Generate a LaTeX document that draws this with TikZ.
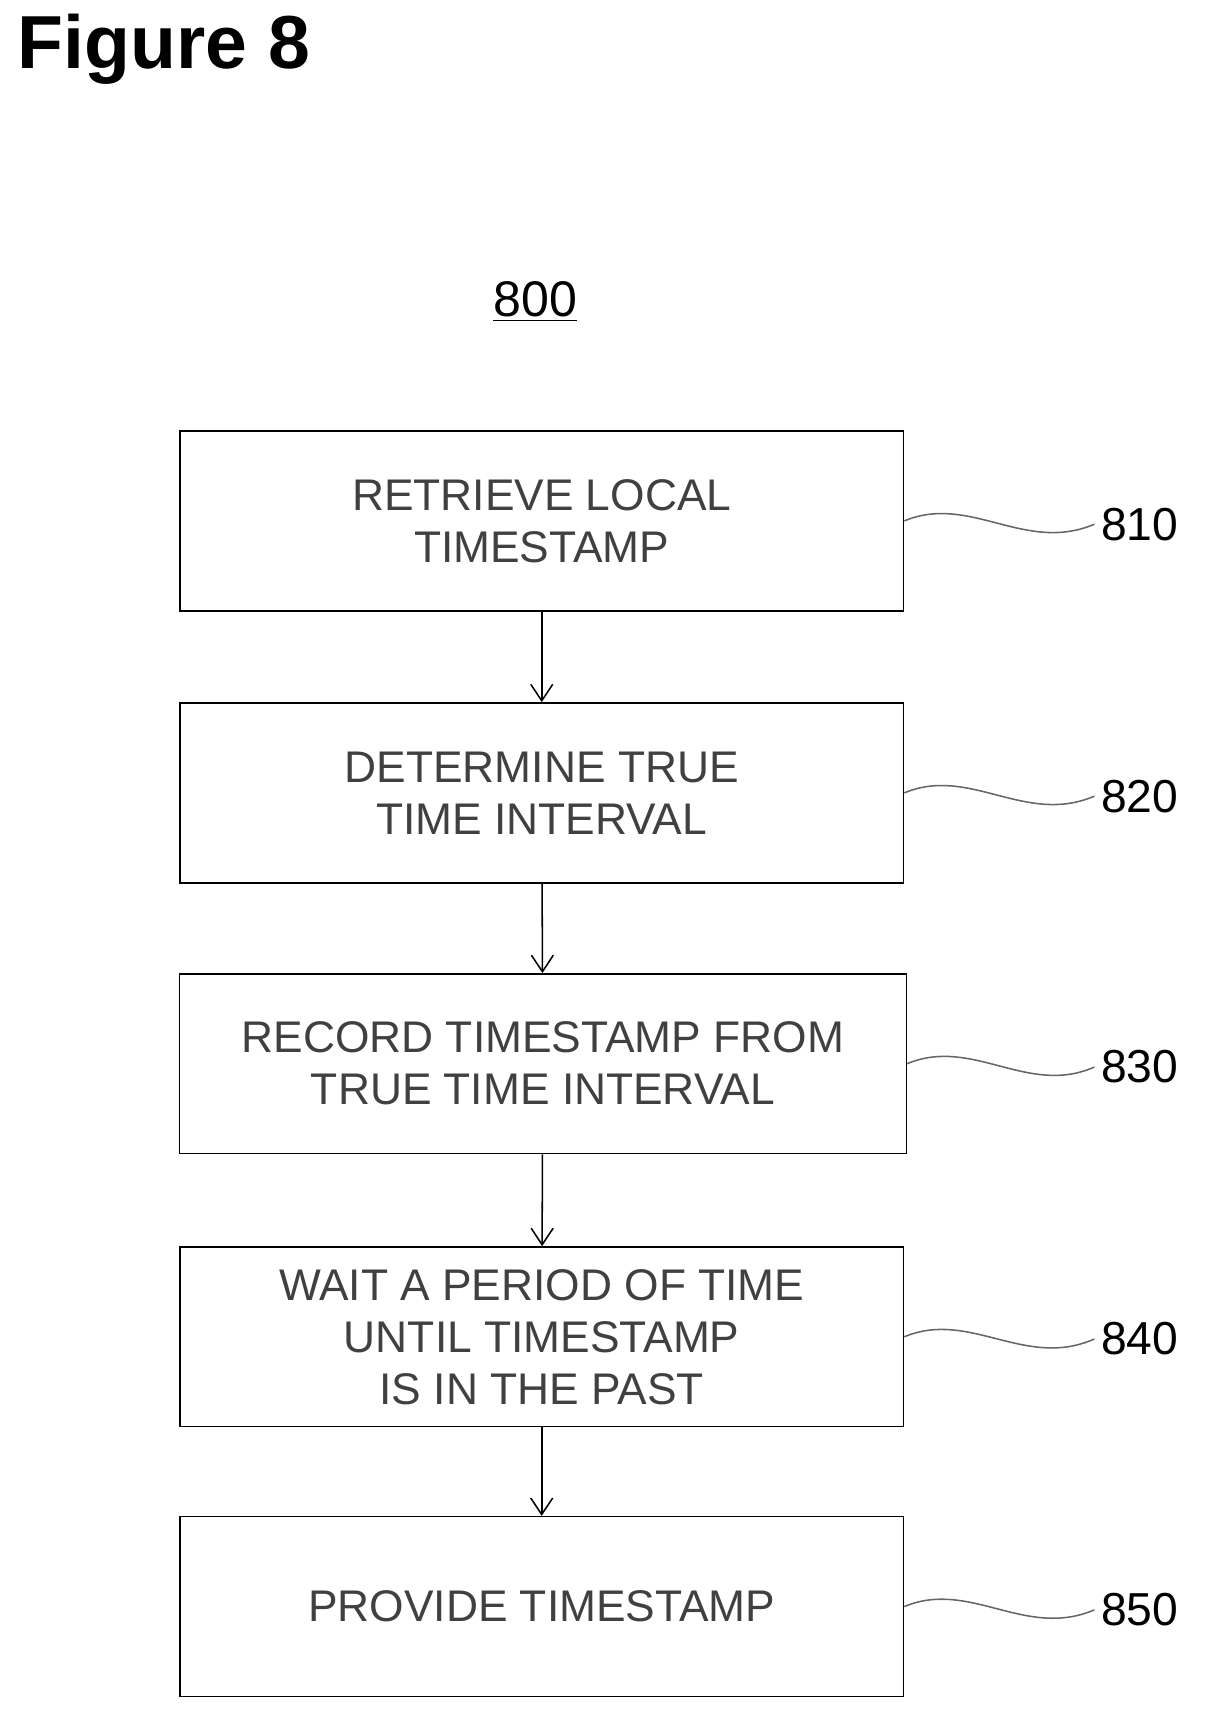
\documentclass[tikz,border=0pt]{standalone}
\usepackage{fontspec}
\setmainfont{Liberation Sans}
\usetikzlibrary{arrows.meta,positioning,calc}
\tikzset{
  stepbox/.style={draw,thick,minimum width=13.2cm,minimum height=3.28cm,align=center,font=\fontsize{23}{27}\selectfont,text=black!75},
  flow/.style={thick,-{Straight Barb[length=3mm,width=4mm]}},
  ref/.style={font=\fontsize{24}{28}\selectfont},
  wave/.style={gray!80!black,thick}
}
\begin{document}
\begin{tikzpicture}[x=0.02cm,y=-0.02cm]
	\useasboundingbox (0,0) rectangle (1100,1563);
	%title
	\node[anchor=west,font=\bfseries\fontsize{39}{45}\selectfont] (fig) at (10,45) {Figure 8};
	\node[font=\fontsize{26}{30}\selectfont] (num) at (488,275) {\underline{800}};
	%steps
	\node[stepbox] (s810) at (494,475) {RETRIEVE LOCAL\\TIMESTAMP};
	\node[stepbox] (s820) at (494,723) {DETERMINE TRUE\\TIME INTERVAL};
	\node[stepbox,minimum width=13.26cm] (s830) at (495,970) {RECORD TIMESTAMP FROM\\TRUE TIME INTERVAL};
	\node[stepbox] (s840) at (494,1219) {WAIT A PERIOD OF TIME\\UNTIL TIMESTAMP\\IS IN THE PAST};
	\node[stepbox] (s850) at (494,1465) {PROVIDE TIMESTAMP};
	%arrows
	\draw[flow] (s810) -- (s820);
	\draw[flow] (s820) -- (s830);
	\draw[flow] (s830) -- (s840);
	\draw[flow] (s840) -- (s850);
	%reference numbers
	\foreach \n/\y in {810/478,820/726,830/973,840/1221,850/1468}{
		\node[ref,anchor=west] (r\n) at (998,\y) {\n};
		\draw[wave] (s\n.east) .. controls ($(s\n.east)+(60,-25)$) and ($(s\n.east)+(110,30)$) .. (r\n.west);
	}
\end{tikzpicture}
\end{document}
